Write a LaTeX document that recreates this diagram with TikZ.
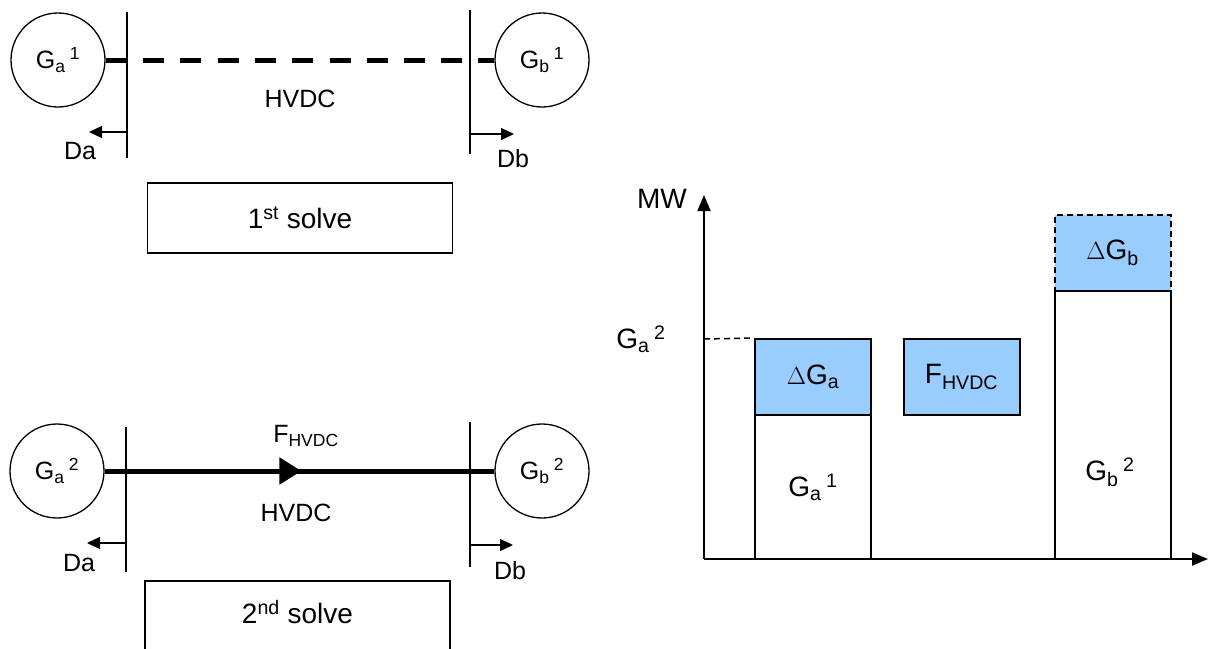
\documentclass[tikz,border=0pt]{standalone}
\usepackage{fontspec}
\setmainfont{Liberation Sans}
\usetikzlibrary{arrows.meta,decorations.markings}
\definecolor{lblue}{HTML}{99CCFF}
\newcommand\gsym[2]{G\textsubscript{#1}\,\textsuperscript{#2}}
\tikzset{
  gen/.style={circle,draw,line width=1.3pt,minimum size=94pt,inner sep=0pt,font=\fontsize{25}{28}\selectfont},
  busline/.style={line width=1.3pt},
  heavy/.style={line width=5pt},
  heavydash/.style={line width=5pt,dash pattern=on 21pt off 16.3pt},
  loadarr/.style={line width=1.3pt,-{Triangle[length=13pt,width=12pt]}},
  lbl/.style={inner sep=0pt,font=\fontsize{25}{28}\selectfont},
  solvebox/.style={draw,line width=1.3pt,minimum width=305pt,minimum height=70pt,inner sep=0pt,font=\fontsize{28}{30}\selectfont},
  chartbox/.style={draw,line width=2pt,minimum width=116pt,inner sep=0pt,font=\fontsize{28}{30}\selectfont},
  bluebox/.style={chartbox,fill=lblue},
  shortdash/.style={dash pattern=on 6pt off 4pt},
  clbl/.style={inner sep=0pt,font=\fontsize{28}{30}\selectfont},
  axis/.style={line width=2pt,-{Triangle[length=16pt,width=13pt]}}
}
\begin{document}
\begin{tikzpicture}[x=1pt,y=-1pt]
\clip (0,0) rectangle (1212,648);
\fill[white] (0,0) rectangle (1212,648);
% ---------- top: 1st solve ----------
\node[gen] (ga1) at (58,60) {\gsym{a}{1}};
\node[gen] (gb1) at (542,60) {\gsym{b}{1}};
\coordinate (bAt) at (127,12);
\coordinate (bAb) at (127,158);
\coordinate (bAm) at (127,60);
\coordinate (bBt) at (470,10);
\coordinate (bBb) at (470,154);
\draw[busline] (bAt) -- (bAb);
\draw[busline] (bBt) -- (bBb);
\draw[heavy] (ga1.east) -- (bAm);
\coordinate (d1) at (143,60);
\coordinate (d2) at (464,60);
\draw[heavydash] (d1) -- (d2);
\coordinate (s1a) at (478,60);
\draw[heavy] (s1a) -- (gb1.west);
\node[lbl] (hv1) at (300,99) {HVDC};
\coordinate (daS1) at (127,132);
\coordinate (daE1) at (89,132);
\draw[loadarr] (daS1) -- (daE1);
\node[lbl] (da1) at (80,151) {Da};
\coordinate (dbS1) at (470,134);
\coordinate (dbE1) at (514,134);
\draw[loadarr] (dbS1) -- (dbE1);
\node[lbl] (db1) at (513,159) {Db};
\node[solvebox] (solve1) at (300,218) {1\textsuperscript{st} solve};
% ---------- bottom: 2nd solve ----------
\node[gen] (ga2) at (57,471) {\gsym{a}{2}};
\node[gen] (gb2) at (542,471) {\gsym{b}{2}};
\coordinate (cAt) at (126,427);
\coordinate (cAb) at (126,572);
\coordinate (cBt) at (470,422);
\coordinate (cBb) at (470,567);
\draw[busline] (cAt) -- (cAb);
\draw[busline] (cBt) -- (cBb);
\draw[heavy,postaction={decorate},decoration={markings,mark=at position 0.505 with {\arrow{Triangle[length=22pt,width=26pt]}}}] (ga2.east) -- (gb2.west);
\node[lbl] (fh) at (306,436) {F\textsubscript{HVDC}};
\node[lbl] (hv2) at (296,513) {HVDC};
\coordinate (daS2) at (126,543);
\coordinate (daE2) at (87,543);
\draw[loadarr] (daS2) -- (daE2);
\node[lbl] (da2) at (79,563) {Da};
\coordinate (dbS2) at (470,545);
\coordinate (dbE2) at (513,545);
\draw[loadarr] (dbS2) -- (dbE2);
\node[lbl] (db2) at (510,571) {Db};
\node[solvebox] (solve2) at (297.5,616) {};
\node[solvebox,draw=none] (solve2t) at (297.5,612) {2\textsuperscript{nd} solve};
% ---------- chart ----------
\coordinate (org) at (704,559);
\coordinate (ytop) at (704,195);
\coordinate (xend) at (1208,559);
\node[bluebox,minimum height=76pt] (dga) at (813,377) {$\Delta$G\textsubscript{a}};
\node[chartbox,minimum height=144pt] (ga1b) at (813,487) {\gsym{a}{1}};
\node[bluebox,minimum height=76pt] (fhb) at (961.5,377) {F\textsubscript{HVDC}};
\node[bluebox,shortdash,minimum height=76pt] (dgb) at (1112.5,253) {$\Delta$G\textsubscript{b}};
\node[chartbox,minimum height=268pt] (gb2b) at (1112.5,425) {};
\node[clbl] (gb2l) at (1110,472) {\gsym{b}{2}};
\draw[axis] (org) -- (ytop);
\draw[axis] (org) -- (xend);
\node[clbl] (mw) at (662,199) {MW};
\node[clbl] (ga2l) at (641,339) {\gsym{a}{2}};
\coordinate (ga2y) at (704,339);
\draw[line width=1.5pt,shortdash] (ga2y) -- (dga.north west);
\end{tikzpicture}
\end{document}
